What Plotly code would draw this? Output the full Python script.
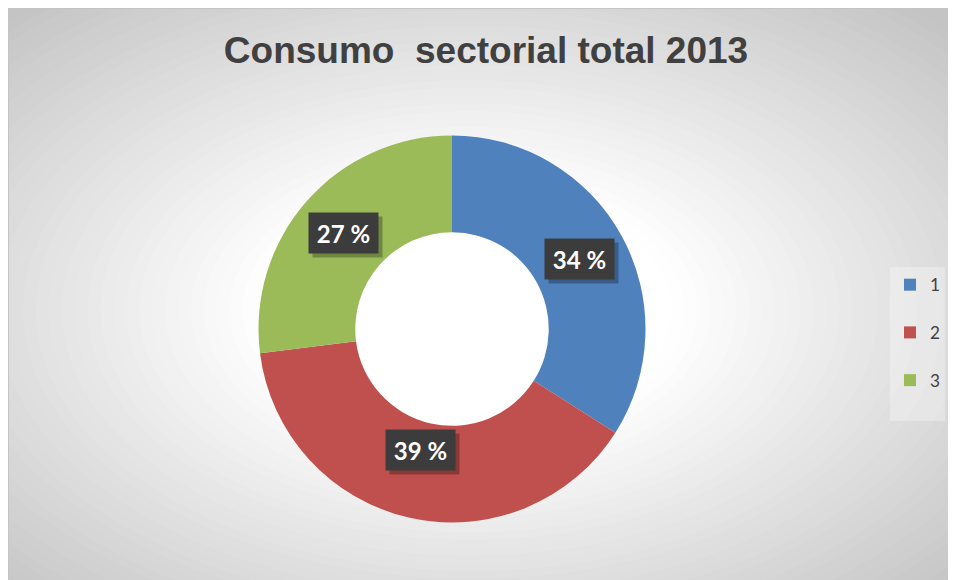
import plotly.graph_objects as go
import math

# ---- data ----
categories = ["1", "2", "3"]
values = [34, 39, 27]
colors = ["#4F81BD", "#C0504D", "#9BBB59"]
title_text = "Consumo  sectorial total 2013"

# page has an 8px body margin; figure fills the rest of the window
W, H = 948, 572
OFF = 8
HOLE = 0.5

# pie domain (pixels -> paper)
cx_px, cy_px, R_px = 452 - OFF, 329 - OFF, 193.5
dom_x = [(cx_px - R_px) / W, (cx_px + R_px) / W]
dom_y = [1 - (cy_px + R_px) / H, 1 - (cy_px - R_px) / H]

# legend labels: extra blank line gives the taller item spacing
legend_labels = [c + "<br> " for c in categories]

fig = go.Figure()
fig.add_trace(go.Pie(
    labels=legend_labels,
    values=values,
    hole=HOLE,
    sort=False,
    direction="clockwise",
    rotation=0,
    marker=dict(colors=colors, line=dict(width=0)),
    textinfo="none",
    hoverinfo="none",
    domain=dict(x=dom_x, y=dom_y),
))

# ---- background radial gradient via stacked ellipses ----
shapes = []
gx, gy = 470 - OFF, 310 - OFF
A, B = 672, 404


def grey(t):
    lo = 196
    if t <= 0.3:
        v = 255
    else:
        v = 255 - (255 - lo) * min(1.0, (t - 0.3) / 0.7)
    v = int(round(v))
    return f"rgb({v},{v},{v})"


shapes.append(dict(type="rect", xref="paper", yref="paper", x0=0, y0=0, x1=1, y1=1,
                   fillcolor=grey(1.05), line=dict(width=0), layer="below"))
n = 40
for k in range(n):
    t = 1.05 - k * (1.05 - 0.3) / (n - 1)
    tm = t - 0.5 * (1.05 - 0.3) / (n - 1)
    shapes.append(dict(type="circle", xref="paper", yref="paper",
                       x0=(gx - A * t) / W, x1=(gx + A * t) / W,
                       y0=1 - (gy + B * t) / H, y1=1 - (gy - B * t) / H,
                       fillcolor=grey(tm), line=dict(width=0), layer="below"))
# chart outline
shapes.append(dict(type="rect", xref="paper", yref="paper", x0=0.0005, x1=1.01,
                   y0=-0.01, y1=0.999, fillcolor="rgba(0,0,0,0)",
                   line=dict(width=1, color="#c4c4c4"), layer="above"))

# ---- data labels (boxes at mid-ring radius) ----
annotations = []
total = sum(values)
r_mid = R_px * (1 + HOLE) / 2
cum = 0
cxp = (dom_x[0] + dom_x[1]) / 2
cyp = (dom_y[0] + dom_y[1]) / 2
for v in values:
    theta = 2 * math.pi * (cum + v / 2) / total
    cum += v
    px = cxp + r_mid * math.sin(theta) / W
    py = cyp + r_mid * math.cos(theta) / H
    txt = f"{round(100 * v / total)} %"
    common = dict(x=px, y=py, xref="paper", yref="paper", showarrow=False,
                  width=69, height=40, borderpad=0, align="center", valign="middle")
    annotations.append(dict(text="\u00a0", font=dict(family="Lato", size=23, color="rgba(0,0,0,0)"),
                            bgcolor="rgba(0,0,0,0.28)", xshift=4, yshift=-4, **common))
    annotations.append(dict(text=txt, font=dict(family="Lato", size=24, color="white", weight="bold"),
                            bgcolor="#3c3c3c", **common))

fig.update_layout(
    width=W, height=H,
    margin=dict(l=0, r=0, t=0, b=0),
    paper_bgcolor="white",
    plot_bgcolor="white",
    title=dict(text=title_text, x=(486 - OFF) / W, xanchor="center", y=1 - (50 - OFF) / H,
               yanchor="middle", yref="container",
               font=dict(family="Liberation Sans, Arial", size=37, color="#404040", weight="bold")),
    showlegend=True,
    legend=dict(x=(890 - OFF) / W, xanchor="left", y=1 - (267 - OFF) / H, yanchor="top",
                bgcolor="rgba(255,255,255,0.3)", borderwidth=0,
                font=dict(family="Lato", size=17.2, color="#404040"),
                valign="top", itemclick=False, itemdoubleclick=False),
    shapes=shapes,
    annotations=annotations,
)

fig.write_html("out.html")
